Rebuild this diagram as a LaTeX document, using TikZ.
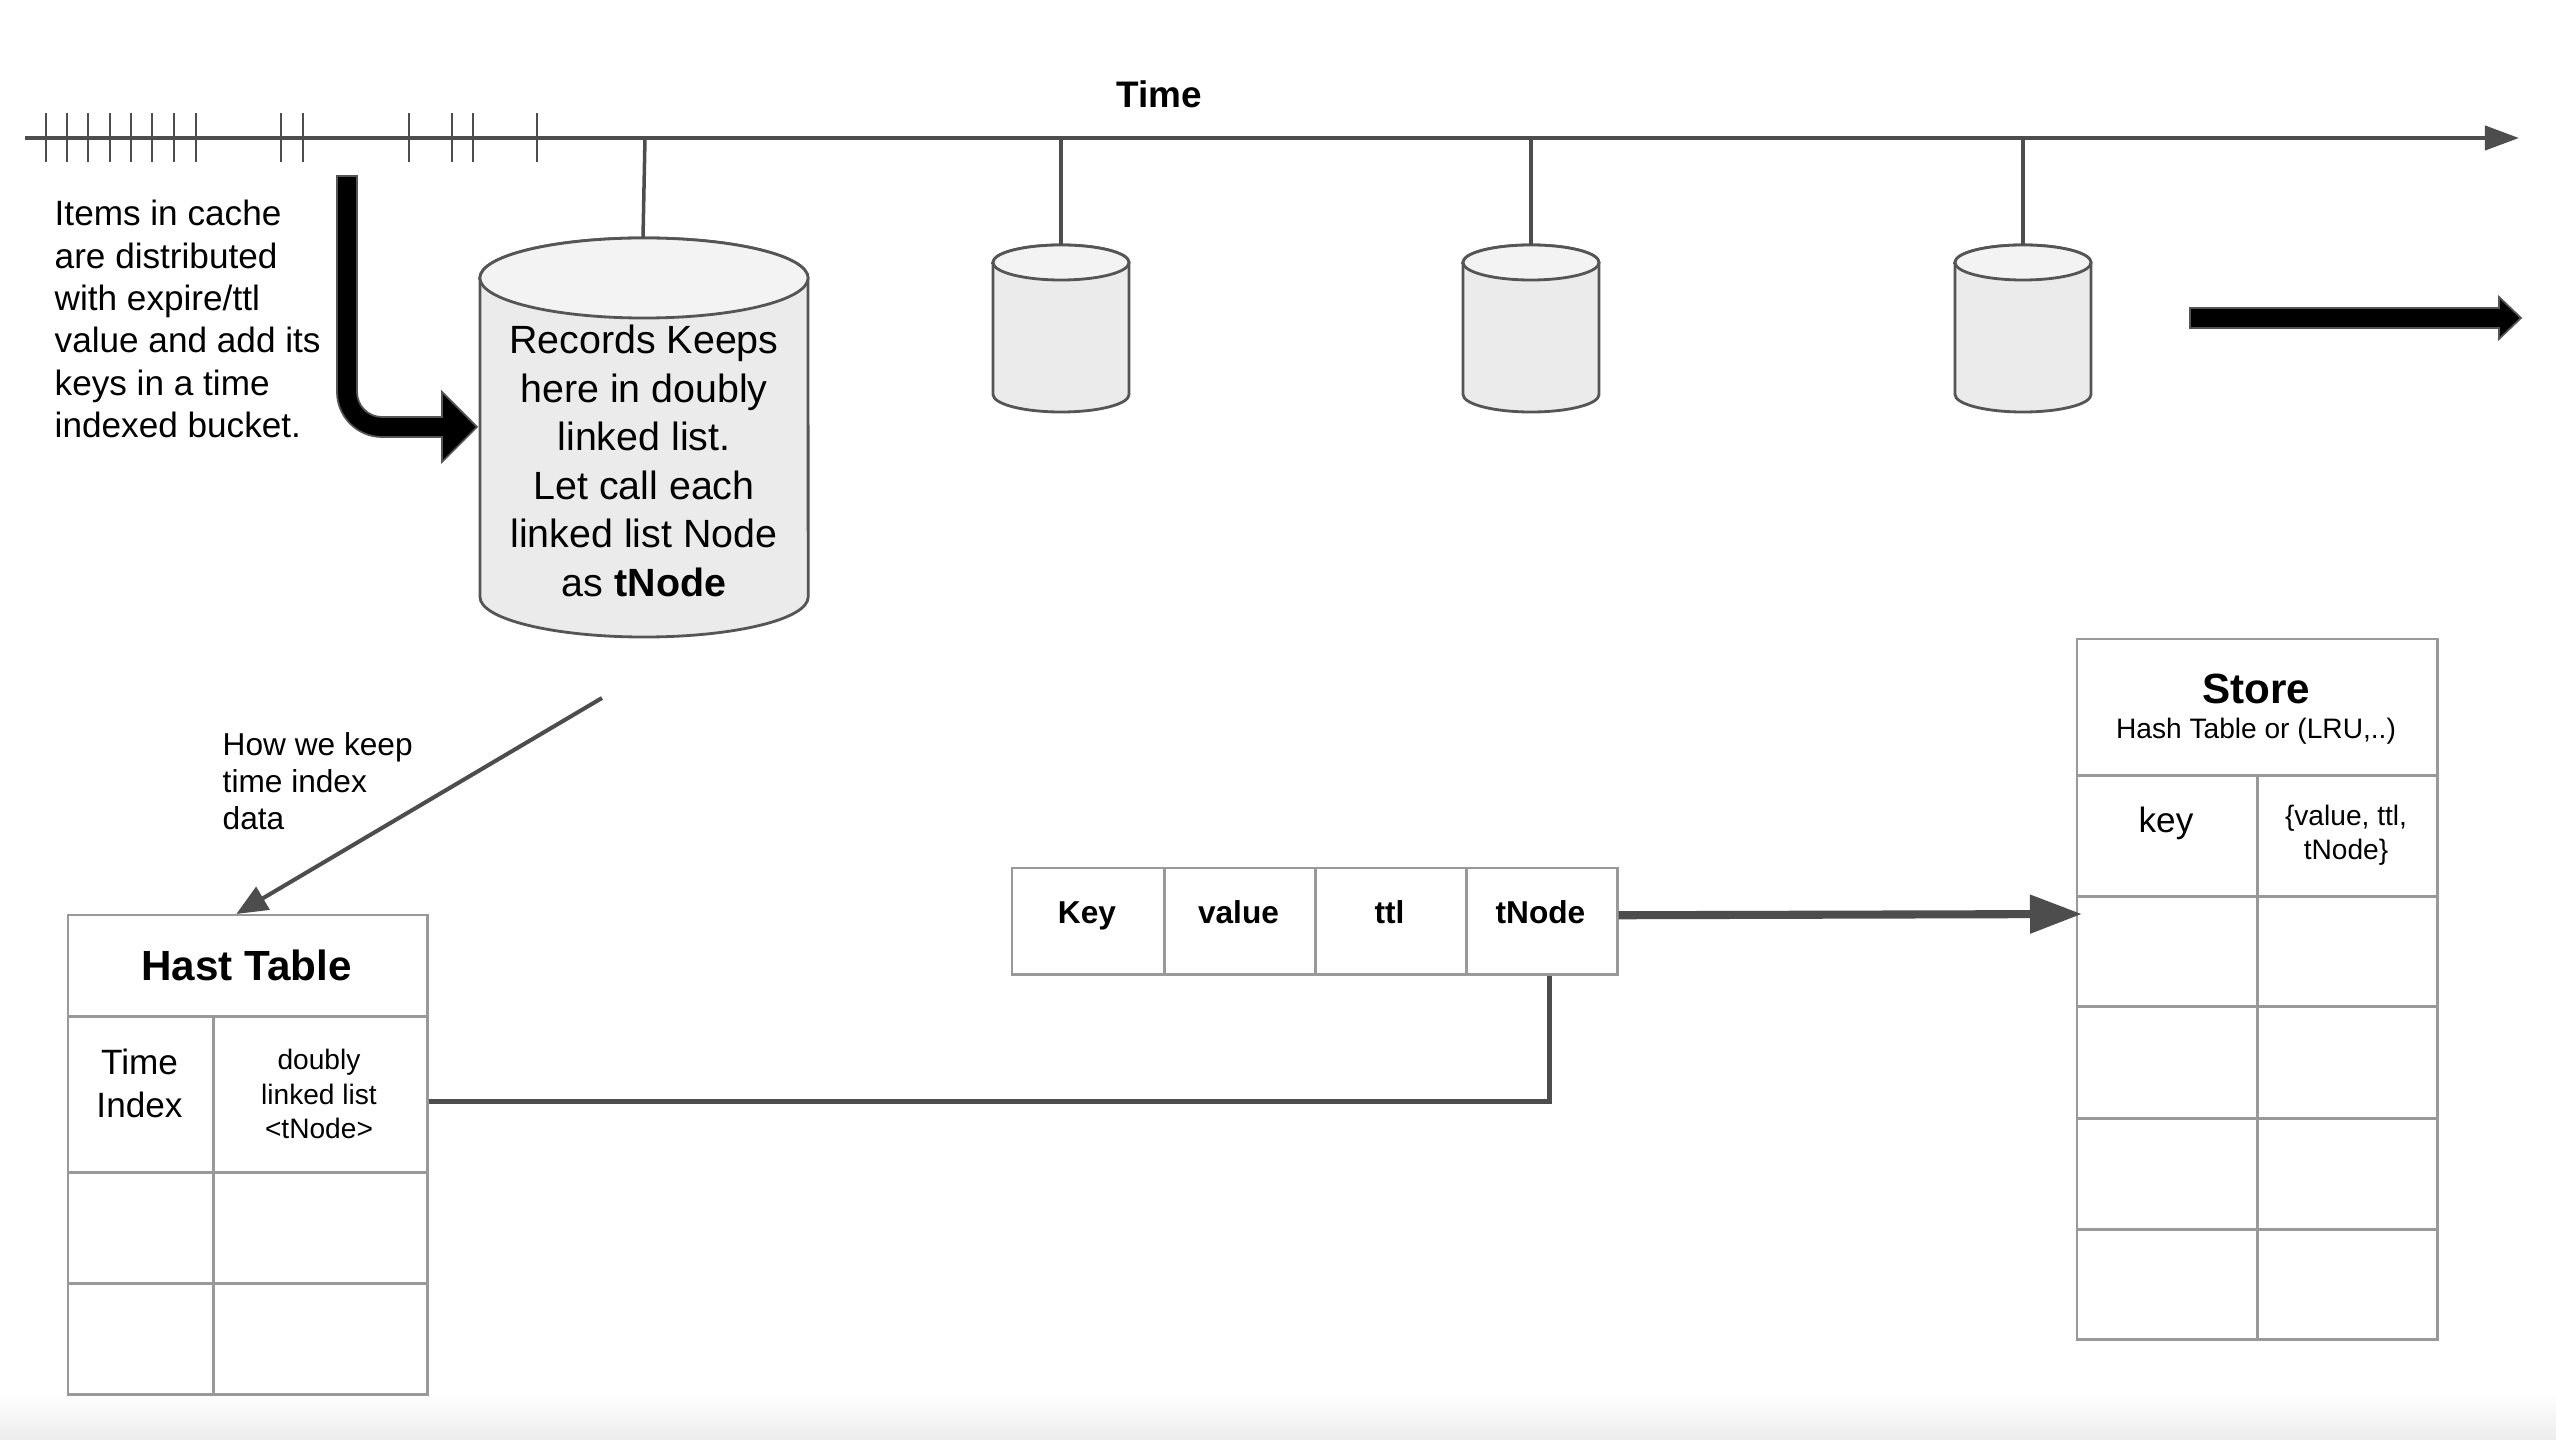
\documentclass[tikz,border=0pt]{standalone}
\usepackage{fontspec}
\setmainfont{Liberation Sans}
\usetikzlibrary{arrows.meta,calc}
\definecolor{lineg}{HTML}{4D4D4D}
\definecolor{cellg}{HTML}{999999}
\definecolor{cylbody}{HTML}{EBEBEB}
\definecolor{cyltop}{HTML}{F3F3F3}
\definecolor{cylline}{HTML}{555555}
\definecolor{bandg}{HTML}{ECECEC}
% cx, top, bottom, rx, ry (numbers), rx, ry (dimensions)
\newcommand\drawcyl[7]{%
 \draw[cylst, fill=cylbody] ({#1-#4},{#2+#5}) -- ({#1-#4},{#3-#5})
   arc[start angle=180, end angle=360, x radius=#6, y radius=#7]
   -- ({#1+#4},{#2+#5})
   arc[start angle=0, end angle=180, x radius=#6, y radius=#7] -- cycle;
 \draw[cylst, fill=cyltop] (#1,{#2+#5}) ellipse[x radius=#6, y radius=#7];
}
\tikzset{
  cylst/.style={draw=cylline, line width=0.8pt},
  tl/.style={draw=lineg, line width=1.15pt},
  tick/.style={draw=lineg, line width=0.85pt},
  hang/.style={draw=lineg, line width=1pt},
  cellst/.style={draw=cellg, line width=0.7pt, inner sep=0pt, anchor=north west},
  lbl/.style={inner sep=0pt, align=center},
  reclbl/.style={inner sep=0pt, anchor=base, font=\fontsize{9}{11}\selectfont\bfseries},
  blockarr/.style={fill=black, draw=cylline, line width=0.5pt},
}
\begin{document}
\begin{tikzpicture}[x=0.01cm, y=-0.01cm]
\useasboundingbox (0,0) rectangle (2556,1440);
\fill[white] (0,0) rectangle (2556,1440);
\shade[top color=white, bottom color=bandg] (0,1392) rectangle (2556,1440);

% timeline
\coordinate (t0) at (25,138);
\coordinate (t1) at (2519,138);
\draw[tl, -{Triangle[length=0.34cm,width=0.24cm]}] (t0) -- (t1);
\foreach \x in {46,67,88,110,131,152,174,196,281,303,409,452,473,537}
  \draw[tick] (\x,113) -- (\x,162);
\node[lbl, font=\fontsize{10.5}{12}\selectfont\bfseries] (timelbl) at (1159,94) {Time};

% hanging points on timeline
\coordinate (h0) at (645,138);
\coordinate (h1) at (1061,138);
\coordinate (h2) at (1531,138);
\coordinate (h3) at (2023,138);

% big cylinder
\drawcyl{644}{238}{637}{164}{40}{1.64cm}{0.40cm}
\coordinate (c0top) at (643,238);
\node[lbl, font=\fontsize{11.2}{13.8}\selectfont] (c0text) at (644,461)
  {Records Keeps\\here in doubly\\linked list.\\Let call each\\linked list Node\\as \textbf{tNode}};

% small cylinders
\drawcyl{1061}{245}{412}{68}{17.5}{0.68cm}{0.175cm}
\drawcyl{1531}{245}{412}{68}{17.5}{0.68cm}{0.175cm}
\drawcyl{2023}{245}{412}{68}{17.5}{0.68cm}{0.175cm}
\coordinate (c1top) at (1061,245);
\coordinate (c2top) at (1531,245);
\coordinate (c3top) at (2023,245);

\draw[hang] (h0) -- (c0top);
\draw[hang] (h1) -- (c1top);
\draw[hang] (h2) -- (c2top);
\draw[hang] (h3) -- (c3top);

% left description
\node[lbl, align=left, anchor=west, font=\fontsize{10}{12.05}\selectfont] (itemsTxt) at (54,319)
  {Items in cache\\are distributed\\with expire/ttl\\value and add its\\keys in a time\\indexed bucket.};

% curved block arrow into big cylinder
\draw[blockarr] (337,176) -- (337,392) .. controls (337,416.8) and (357.2,437) .. (382,437)
  -- (442,437) -- (442,462) -- (477,427) -- (442,392) -- (442,417) -- (382,417)
  .. controls (368.2,417) and (357,405.8) .. (357,392) -- (357,176) -- cycle;

% right block arrow
\draw[blockarr] (2190,308) -- (2499,308) -- (2499,297) -- (2521,318) -- (2499,339)
  -- (2499,328) -- (2190,328) -- cycle;

% Hast Table
\node[cellst, minimum width=3.59cm, minimum height=1.01cm] (hthead) at (67,914) {};
\node[cellst, minimum width=1.45cm, minimum height=1.56cm] (ht11) at (67,1015) {};
\node[cellst, minimum width=2.14cm, minimum height=1.56cm] (ht12) at (212,1015) {};
\node[cellst, minimum width=1.45cm, minimum height=1.11cm] (ht21) at (67,1171) {};
\node[cellst, minimum width=2.14cm, minimum height=1.11cm] (ht22) at (212,1171) {};
\node[cellst, minimum width=1.45cm, minimum height=1.11cm] (ht31) at (67,1282) {};
\node[cellst, minimum width=2.14cm, minimum height=1.11cm] (ht32) at (212,1282) {};
\node[lbl, font=\fontsize{12}{14}\selectfont\bfseries] (httitle) at (246.5,965) {Hast Table};
\node[lbl, font=\fontsize{10}{12.2}\selectfont] (httime) at (139.5,1083.5) {Time\\Index};
\node[lbl, font=\fontsize{8}{9.7}\selectfont] (htlist) at (319,1094) {doubly\\linked list\\<tNode>};

% How we keep
\coordinate (hwk) at (602,698);
\draw[draw=lineg, line width=1.15pt, -{Triangle[length=0.31cm,width=0.26cm]}] (hwk) -- ([xshift=-0.115cm]hthead.north);
\node[lbl, align=left, anchor=west, font=\fontsize{9}{10.5}\selectfont] (hwkTxt) at (222,781)
  {How we keep\\time index\\data};

% record row
\node[cellst, minimum width=1.52cm, minimum height=1.06cm] (rk) at (1011,867) {};
\node[cellst, minimum width=1.51cm, minimum height=1.06cm] (rv) at (1163,867) {};
\node[cellst, minimum width=1.51cm, minimum height=1.06cm] (rt) at (1314,867) {};
\node[cellst, minimum width=1.51cm, minimum height=1.06cm] (rn) at (1465,867) {};
\node[reclbl] (rkT) at (1087,924) {Key};
\node[reclbl] (rvT) at (1238.5,924) {value};
\node[reclbl] (rtT) at (1389.5,924) {ttl};
\node[reclbl] (rnT) at (1540.5,924) {tNode};

% Store
\node[cellst, minimum width=3.60cm, minimum height=1.36cm] (sthead) at (2076,638) {};
\node[cellst, minimum width=1.80cm, minimum height=1.21cm] (s11) at (2076,774) {};
\node[cellst, minimum width=1.80cm, minimum height=1.21cm] (s12) at (2256,774) {};
\node[cellst, minimum width=1.80cm, minimum height=1.10cm] (s21) at (2076,895) {};
\node[cellst, minimum width=1.80cm, minimum height=1.10cm] (s22) at (2256,895) {};
\node[cellst, minimum width=1.80cm, minimum height=1.12cm] (s31) at (2076,1005) {};
\node[cellst, minimum width=1.80cm, minimum height=1.12cm] (s32) at (2256,1005) {};
\node[cellst, minimum width=1.80cm, minimum height=1.11cm] (s41) at (2076,1117) {};
\node[cellst, minimum width=1.80cm, minimum height=1.11cm] (s42) at (2256,1117) {};
\node[cellst, minimum width=1.80cm, minimum height=1.10cm] (s51) at (2076,1228) {};
\node[cellst, minimum width=1.80cm, minimum height=1.10cm] (s52) at (2256,1228) {};
\node[lbl, font=\fontsize{12}{14}\selectfont\bfseries] (stT) at (2256,689) {Store};
\node[lbl, font=\fontsize{8}{9.6}\selectfont] (stSub) at (2256,731) {Hash Table or (LRU,..)};
\node[lbl, font=\fontsize{10}{12}\selectfont] (stKey) at (2166,823) {key};
\node[lbl, font=\fontsize{8}{9.6}\selectfont] (stVal) at (2346,835) {\{value, ttl,\\tNode\}};

% connectors
\draw[draw=lineg, line width=1.3pt] ([yshift=-0.07cm]ht12.east) -| ([xshift=0.075cm]rn.south);
\draw[draw=lineg, line width=2.3pt, -{Triangle[length=0.52cm,width=0.37cm]}]
  ([yshift=0.06cm]rn.east) -- ([xshift=0.06cm,yshift=-0.19cm]s21.north west);
\end{tikzpicture}
\end{document}
